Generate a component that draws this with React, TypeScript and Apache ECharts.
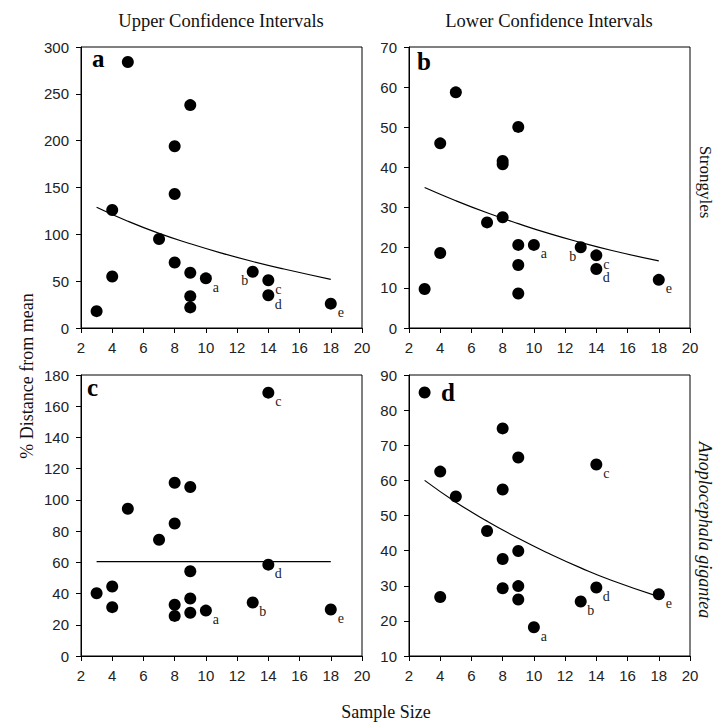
import React, { useEffect, useRef } from "react";
import * as echarts from "echarts";

// ---- data ----
const aX = [3, 4, 4, 5, 7, 8, 8, 8, 9, 9, 9, 9, 10, 13, 14, 14, 18];
const aY = [18, 126, 55, 284, 95, 194, 143, 70, 238, 59, 34, 22, 53, 60, 51, 35, 26];
const aTag = ["", "", "", "", "", "", "", "", "", "", "", "", "a", "b", "c", "d", "e"];

const bX = [3, 4, 4, 5, 7, 8, 8, 8, 9, 9, 9, 9, 10, 13, 14, 14, 18];
const bY = [9.7, 46, 18.7, 58.7, 26.3, 40.8, 41.6, 27.6, 50.1, 20.7, 15.7, 8.6, 20.7, 20.1, 18.1, 14.7, 12];
const bTag = ["", "", "", "", "", "", "", "", "", "", "", "", "a", "b", "c", "d", "e"];

const cX = [3, 4, 4, 5, 7, 8, 8, 8, 8, 9, 9, 9, 9, 10, 13, 14, 14, 18];
const cY = [40.2, 44.5, 31.3, 94.3, 74.5, 111, 84.9, 32.8, 25.7, 108.3, 54.3, 36.8, 27.7, 29.1, 34.3, 168.7, 58.5, 29.8];
const cTag = ["", "", "", "", "", "", "", "", "", "", "", "", "", "a", "b", "c", "d", "e"];

const dX = [3, 4, 4, 5, 7, 8, 8, 8, 8, 9, 9, 9, 9, 10, 13, 14, 14, 18];
const dY = [85, 62.5, 26.8, 55.4, 45.6, 74.8, 57.4, 37.6, 29.3, 66.5, 39.9, 29.9, 26.1, 18.2, 25.5, 64.5, 29.5, 27.6];
const dTag = ["", "", "", "", "", "", "", "", "", "", "", "", "", "a", "b", "c", "d", "e"];

// fitted lines
const curveX = [3, 5, 7, 9, 11, 13, 15, 18];
const aCurveY = [129, 114, 101, 90, 80, 71, 63, 52];
const bCurveY = [35, 31.7, 28.7, 26, 23.5, 21.3, 19.3, 16.7];
const dCurveY = [60, 53.8, 48.4, 43.5, 39.1, 35.1, 31.5, 26.9];
const cLineX = [3, 18];
const cLineY = [60.4, 60.4];

// axes
const xMin = 2, xMax = 20, xStep = 2;
const yRanges = [
  { min: 0, max: 300, interval: 50 },
  { min: 0, max: 70, interval: 10 },
  { min: 0, max: 180, interval: 20 },
  { min: 10, max: 90, interval: 10 },
];

const colTitles = ["Upper Confidence Intervals", "Lower Confidence Intervals"];
const panelLetters = ["a", "b", "c", "d"];
const rowNames = ["Strongyles", "Anoplocephala gigantea"];
const yName = "% Distance from mean";
const xName = "Sample Size";

const SERIF = "'Liberation Serif', 'Times New Roman', serif";
const SANS = "'Liberation Sans', Arial, sans-serif";

export default function App() {
  const ref = useRef<HTMLDivElement>(null);

  useEffect(() => {
    if (!ref.current) return;
    const chart = echarts.init(ref.current, null, { renderer: "svg" });

    const grids = [
      { left: 81, top: 47, width: 281, height: 281 },
      { left: 409, top: 47, width: 281, height: 281 },
      { left: 81, top: 375, width: 281, height: 281 },
      { left: 409, top: 375, width: 281, height: 281 },
    ].map((g) => ({ ...g, show: true, borderColor: "#000", borderWidth: 1, backgroundColor: "transparent" }));

    const axisCommon = {
      axisLine: { show: true, lineStyle: { color: "#000", width: 1 } },
      axisTick: { show: true, inside: false, length: 5, lineStyle: { color: "#000" } },
      splitLine: { show: false },
      axisLabel: { color: "#222", fontFamily: SANS, fontSize: 15 },
    };

    const xAxes = grids.map((_, i) => ({
      type: "value",
      gridIndex: i,
      min: xMin,
      max: xMax,
      interval: xStep,
      ...axisCommon,
      axisLabel: { ...axisCommon.axisLabel, margin: 12 },
    }));
    const yAxes = yRanges.map((r, i) => ({
      type: "value",
      gridIndex: i,
      min: r.min,
      max: r.max,
      interval: r.interval,
      ...axisCommon,
      axisLabel: { ...axisCommon.axisLabel, margin: 12 },
    }));

    const sets = [
      { x: aX, y: aY, t: aTag },
      { x: bX, y: bY, t: bTag },
      { x: cX, y: cY, t: cTag },
      { x: dX, y: dY, t: dTag },
    ];

    // label centre offset from the point centre (px); "right" position puts origin at cx+6
    const labelOffset = (panel: number, tag: string) => {
      if (tag === "b" && panel < 2) return [-8 - 6, 9];
      return [10 - 6, 9];
    };

    const scatterSeries = sets.map((s, i) => ({
      type: "scatter",
      xAxisIndex: i,
      yAxisIndex: i,
      symbol: "circle",
      symbolSize: 12,
      itemStyle: { color: "#000", opacity: 1 },
      z: 3,
      data: s.x.map((x, k) => ({
        value: [x, s.y[k]],
        label: s.t[k]
          ? {
              show: true,
              position: "right",
              distance: 0,
              align: "center",
              verticalAlign: "middle",
              formatter: s.t[k],
              offset: labelOffset(i, s.t[k]),
              color: "#222",
              textBorderWidth: 0,
              fontFamily: SERIF,
              fontSize: 14,
            }
          : { show: false },
      })),
    }));

    const lineStyle = { color: "#000", width: 1.2 };
    const lineSeries = [
      { idx: 0, x: curveX, y: aCurveY },
      { idx: 1, x: curveX, y: bCurveY },
      { idx: 2, x: cLineX, y: cLineY },
      { idx: 3, x: curveX, y: dCurveY },
    ].map((l) => ({
      type: "line",
      xAxisIndex: l.idx,
      yAxisIndex: l.idx,
      smooth: true,
      showSymbol: false,
      symbol: "none",
      lineStyle,
      z: 2,
      data: l.x.map((x, k) => [x, l.y[k]]),
    }));

    const txt = (text: string, x: number, y: number, extra: any = {}, rotation = 0) => ({
      type: "text",
      x,
      y,
      rotation,
      style: {
        text,
        fill: "#111",
        fontFamily: SERIF,
        fontSize: 18,
        align: "center",
        verticalAlign: "middle",
        ...extra,
      },
    });

    const letterPos = [
      [92, 58],
      [417, 61],
      [87, 387],
      [441, 392],
    ];

    const graphic = [
      txt(colTitles[0], 221, 21, { fontSize: 18.5 }),
      txt(colTitles[1], 549, 21, { fontSize: 18.5 }),
      txt(yName, 27, 376, {}, Math.PI / 2),
      txt(rowNames[0], 705, 182, { fontSize: 17 }, -Math.PI / 2),
      txt(rowNames[1], 705, 530, { fontSize: 18, fontStyle: "italic" }, -Math.PI / 2),
      txt(xName, 386, 712, { fontSize: 18 }),
      ...panelLetters.map((l, i) =>
        txt(l, letterPos[i][0], letterPos[i][1], { fontSize: 25, fontWeight: "bold", align: "left", fill: "#000" })
      ),
    ];

    chart.setOption({
      animation: false,
      backgroundColor: "#fff",
      grid: grids,
      xAxis: xAxes,
      yAxis: yAxes,
      series: [...lineSeries, ...scatterSeries],
      graphic,
    });

    return () => chart.dispose();
  }, []);

  return (
    <div
      ref={ref}
      style={{ position: "fixed", left: 0, top: 0, width: 715, height: 724, background: "#fff" }}
    />
  );
}
